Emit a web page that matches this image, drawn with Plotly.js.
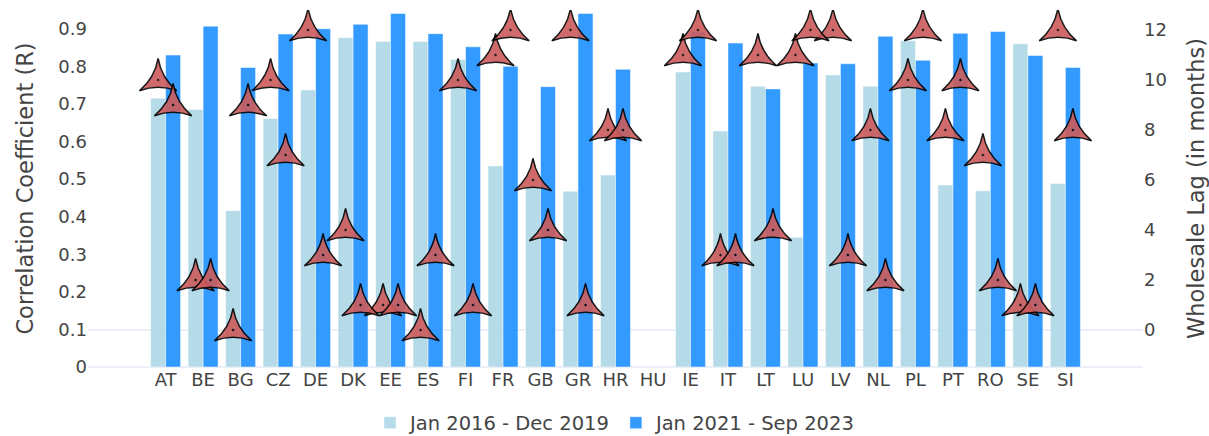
<!DOCTYPE html>
<html>
<head>
<meta charset="utf-8">
<script src="https://cdn.plot.ly/plotly-3.0.1.min.js"></script>
<style>html,body{margin:0;padding:0;background:#fff;}#chart{width:1209px;height:436px;}</style>
</head>
<body>
<div id="chart"></div>
<script>
var countries = ["AT","BE","BG","CZ","DE","DK","EE","ES","FI","FR","GB","GR","HR","HU","IE","IT","LT","LU","LV","NL","PL","PT","RO","SE","SI"];
var corr2016 = [0.715,0.685,0.416,0.661,0.737,0.876,0.866,0.866,0.818,0.535,0.48,0.468,0.511,null,0.785,0.628,0.747,0.345,0.777,0.747,0.868,0.484,0.469,0.860,0.488];
var corr2021 = [0.830,0.907,0.797,0.886,0.900,0.912,0.941,0.887,0.852,0.800,0.746,0.941,0.792,null,0.892,0.862,0.740,0.809,0.807,0.880,0.816,0.888,0.893,0.829,0.797];
var lag2016 = [10,2,0,10,12,4,1,0,10,11,6,12,8,null,11,3,11,11,12,8,10,8,7,1,12];
var lag2021 = [9,2,9,7,3,1,1,3,1,12,4,1,8,null,12,3,4,12,3,2,12,10,2,1,8];
var seriesNames = ["Jan 2016 - Dec 2019","Jan 2021 - Sep 2023"];

var font = {family: "Verdana, 'DejaVu Sans', sans-serif", color: "#444"};
var markerStyle = {
  symbol: "star-triangle-up-dot",
  size: 27,
  color: "indianred",
  opacity: 0.9,
  line: {color: "black", width: 1.5}
};

var traces = [
  {type: "bar", name: seriesNames[0], x: countries, y: corr2016, offsetgroup: "a",
   marker: {color: "lightblue", line: {color: "white", width: 0.5}}, opacity: 0.9},
  {type: "bar", name: seriesNames[1], x: countries, y: corr2021, offsetgroup: "b",
   marker: {color: "dodgerblue", line: {color: "white", width: 0.5}}, opacity: 0.9},
  {type: "scatter", mode: "markers", x: countries, y: lag2016, yaxis: "y2", offsetgroup: "a",
   showlegend: false, marker: markerStyle},
  {type: "scatter", mode: "markers", x: countries, y: lag2021, yaxis: "y2", offsetgroup: "b",
   showlegend: false, marker: markerStyle}
];

var layout = {
  width: 1209, height: 436,
  margin: {l: 88, r: 66, t: 10, b: 69, autoexpand: false},
  paper_bgcolor: "white", plot_bgcolor: "white",
  font: font,
  barmode: "group",
  scattermode: "group",
  showlegend: true,
  legend: {orientation: "h", x: 0.5, xanchor: "center", y: -0.157, yanchor: "middle",
           font: {size: 19.5, family: font.family, color: "#444"}},
  xaxis: {type: "category", categoryorder: "array", categoryarray: countries,
          range: [-2.07, 26.07], showgrid: false, zeroline: false,
          showline: false, tickfont: {size: 18}},
  yaxis: {range: [0, 0.95], dtick: 0.1, tick0: 0, showgrid: false,
          zeroline: true, zerolinecolor: "#EBF0F8", zerolinewidth: 2,
          tickfont: {size: 18},
          title: {text: "Correlation Coefficient (R)", font: {size: 22.5}}},
  yaxis2: {overlaying: "y", side: "right", range: [-1.48, 12.8], dtick: 2, tick0: 0,
           showgrid: false, zeroline: true, zerolinecolor: "#EBF0F8", zerolinewidth: 2,
           tickfont: {size: 18},
           title: {text: "Wholesale Lag (in months)", font: {size: 22.5}}}
};

Plotly.newPlot("chart", traces, layout, {displayModeBar: false, staticPlot: true});
</script>
</body>
</html>
